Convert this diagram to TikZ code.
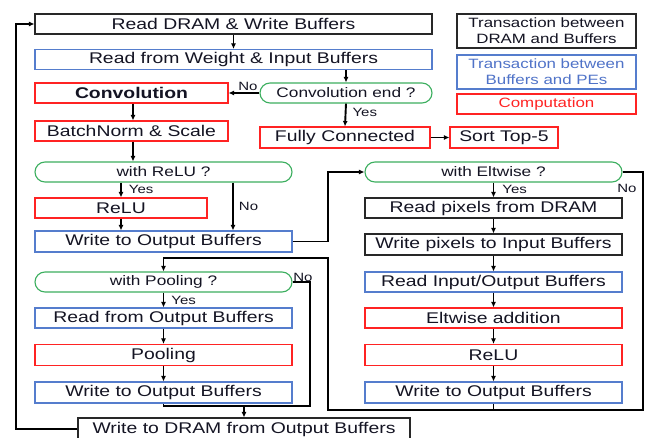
\documentclass[tikz,border=0pt]{standalone}
\usepackage{fontspec}
\setmainfont[FakeStretch=1.25]{Liberation Sans}
\usetikzlibrary{arrows.meta}
\definecolor{txt}{RGB}{20,20,35}
\definecolor{boxblack}{RGB}{40,40,40}
\definecolor{boxblue}{RGB}{85,125,205}
\definecolor{boxred}{RGB}{255,35,35}
\definecolor{boxgreen}{RGB}{60,175,95}
\definecolor{legblue}{RGB}{80,115,200}
\newcommand{\mainsz}{\fontsize{15.5}{18}\selectfont}
\newcommand{\condsz}{\fontsize{13.8}{16}\selectfont}
\newcommand{\legsz}{\fontsize{13.5}{16}\selectfont}
\newcommand{\lblsz}{\fontsize{12}{14}\selectfont}
\tikzset{
  base/.style={draw, line width=1.1pt, inner sep=0pt, minimum height=20pt, text=txt, font=\mainsz, anchor=center},
  blk/.style={base, draw=boxblack},
  blu/.style={base, draw=boxblue},
  rd/.style={base, draw=boxred},
  cond/.style={base, draw=boxgreen, rounded corners=10pt, font=\condsz},
  lgd/.style={base, font=\legsz, align=center, minimum width=179pt},
  lbl/.style={inner sep=1pt, font=\lblsz, text=txt},
  conn/.style={line width=1.9pt, draw=black},
  arr/.style={conn, -{Latex[length=5.5pt,width=5pt]}},
}
\begin{document}
\begin{tikzpicture}[x=1pt,y=-1pt]
\path[use as bounding box] (0,0) rectangle (649,438);
\clip (0,0) rectangle (649,438);
\fill[white] (0,0) rectangle (649,438);

% left column top
\node[blk, minimum width=397pt] (n1) at (233.5,24) {Read DRAM \& Write Buffers};
\node[blu, minimum width=397pt] (n2) at (233.5,59.5) {Read from Weight \& Input Buffers};
\node[rd, minimum width=193pt, font=\mainsz\bfseries] (conv) at (131.5,93) {Convolution};
\node[cond, minimum width=172pt] (cend) at (346,93) {Convolution end ?};
\node[rd, minimum width=193pt] (bn) at (131.5,131) {BatchNorm \& Scale};
\node[rd, minimum width=170pt, minimum height=21pt] (fc) at (345,137.5) {Fully Connected};
\node[rd, minimum width=108pt, minimum height=21pt] (sort) at (504,137.5) {Sort Top-5};

% legend
\node[lgd, draw=boxblack, minimum height=34pt] (lg1) at (546.5,31) {Transaction between\\DRAM and Buffers};
\node[lgd, draw=boxblue, text=legblue, minimum height=34pt] (lg2) at (546.5,72) {Transaction between\\Buffers and PEs};
\node[lgd, draw=boxred, text=boxred] (lg3) at (546.5,104) {Computation};

% ReLU branch
\node[cond, minimum width=257pt] (qrelu) at (163.5,172) {with ReLU ?};
\node[rd, minimum width=172pt] (relu) at (121,208) {ReLU};
\node[blu, minimum width=257pt, minimum height=21pt] (wob1) at (163.5,241.5) {Write to Output Buffers};

% Pooling branch
\node[cond, minimum width=257pt] (qpool) at (163.5,282) {with Pooling ?};
\node[blu, minimum width=257pt] (rob) at (163.5,318) {Read from Output Buffers};
\node[rd, minimum width=257pt, minimum height=21pt] (pool) at (163.5,355) {Pooling};
\node[blu, minimum width=257pt, minimum height=21pt] (wob2) at (163.5,392.5) {Write to Output Buffers};

% Eltwise branch
\node[cond, minimum width=257pt] (qelt) at (493.5,172) {with Eltwise ?};
\node[blk, minimum width=257pt] (rpd) at (493.5,208) {Read pixels from DRAM};
\node[blk, minimum width=257pt, minimum height=21pt] (wpi) at (493.5,244.5) {Write pixels to Input Buffers};
\node[blu, minimum width=257pt] (rio) at (493.5,282) {Read Input/Output Buffers};
\node[rd, minimum width=257pt] (elt) at (493.5,318) {Eltwise addition};
\node[rd, minimum width=257pt, minimum height=21pt] (relu2) at (493.5,355) {ReLU};
\node[blu, minimum width=257pt, minimum height=21pt] (wob3) at (493.5,392.5) {Write to Output Buffers};

% bottom
\node[blk, minimum width=332pt, minimum height=22pt] (wdram) at (244,429) {Write to DRAM from Output Buffers};

% helper coordinates
\coordinate (relno) at (233,172);
\coordinate (wq) at (328,241.5);
\coordinate (ej) at (493.5,410);
\coordinate (el) at (328,410);
\coordinate (et) at (328,258);
\coordinate (er) at (643,410);
\coordinate (p1) at (310,406);
\coordinate (lp) at (16,429);

% connectors top
\draw[arr] (n1.south -| n1.center) -- (n2.north);
\draw[arr] (cend.north |- n2.south) -- (cend.north);
\draw[arr] (cend.west) -- node[lbl, above, pos=0.375]{No} (conv.east);
\draw[arr] (cend.south) -- node[lbl, right=5pt, pos=0.4]{Yes} (fc.north);
\draw[arr] (fc.east) -- (sort.west);
\draw[arr] ([xshift=1.5pt]conv.south) -- ([xshift=1.5pt]bn.north);
\draw[arr] ([xshift=1.5pt]bn.south) -- ([xshift=1.5pt]bn.south |- qrelu.north);

% ReLU branch connectors
\draw[arr] (relu.north |- qrelu.south) -- node[lbl, right=6pt, pos=0.45]{Yes} (relu.north);
\draw[arr] (relu.south) -- (relu.south |- wob1.north);
\draw[arr] (relno |- qrelu.south) -- node[lbl, right=4pt]{No} (relno |- wob1.north);
\draw[arr] (wob1.east) -- (wq) |- (qelt.west);

% Eltwise connectors
\draw[arr] (qelt.south) -- node[lbl, right=7pt, pos=0.45]{Yes} (rpd.north);
\draw[arr] (rpd.south) -- (wpi.north);
\draw[arr] (wpi.south) -- (rio.north);
\draw[arr] (rio.south) -- (elt.north);
\draw[arr] (elt.south) -- (relu2.north);
\draw[arr] (relu2.south) -- (wob3.north);
\draw[conn] (qelt.east) -| (er) -- (ej);
\node[lbl] (noelt) at (627,188) {No};
\draw[arr] (wob3.south) -- (ej) -- (el) -- (et) -- (et -| qpool.north) -- (qpool.north);

% Pooling connectors
\draw[arr] (qpool.south) -- node[lbl, right=6pt, pos=0.5]{Yes} (rob.north);
\draw[arr] (rob.south) -- (pool.north);
\draw[arr] (pool.south) -- (wob2.north);
\draw[conn] (qpool.east) -| (p1) -- (p1 -| wob2.south) -- (wob2.south);
\node[lbl, anchor=south west, inner sep=0.5pt] (nopool) at (qpool.east) {No};
\draw[arr] (wdram.north |- p1) -- (wdram.north);

% loop back
\draw[arr] (wdram.west) -- (lp) |- (n1.west);
\end{tikzpicture}
\end{document}
